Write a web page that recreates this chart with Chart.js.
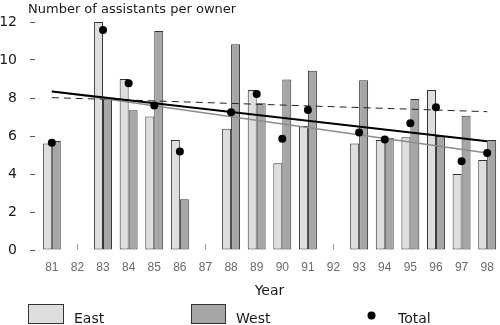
<!DOCTYPE html>
<html>
<head>
<meta charset="utf-8">
<script src="https://cdn.jsdelivr.net/npm/chart.js@4.4.1/dist/chart.umd.min.js"></script>
<style>
  html, body { margin: 0; padding: 0; background: #fff; }
  #wrap { width: 500px; height: 325px; }
</style>
</head>
<body>
<div id="wrap"><canvas id="assistants"></canvas></div>
<script>
/*
    DATOS
*/
const years = ['81', '82', '83', '84', '85', '86', '87', '88', '89', '90', '91', '92', '93', '94', '95', '96', '97', '98'];
const east = [5.6, null, 12.0, 9.0, 7.03, 5.79, null, 6.38, 8.42, 4.56, 6.53, null, 5.61, 5.79, 5.93, 8.42, 4.0, 4.74];
const west = [5.74, null, 7.97, 7.35, 11.53, 2.67, null, 10.83, 7.72, 8.98, 9.44, null, 8.93, 5.91, 7.95, 6.0, 7.07, 5.79];
const total = [5.65, null, 11.58, 8.77, 7.6, 5.19, null, 7.25, 8.21, 5.86, 7.37, null, 6.19, 5.82, 6.67, 7.51, 4.67, 5.1];
const trendTotal = [8.34, null, null, null, null, null, null, null, null, null, null, null, null, null, null, null, null, 5.72];
const trendEast = [8.36, null, null, null, null, null, null, null, null, null, null, null, null, null, null, null, null, 5.1];
const trendWest = [8.02, null, null, null, null, null, null, null, null, null, null, null, null, null, null, null, null, 7.28];
const emptyYears = ['82', '87', '92'];
const yTicks = [0, 2, 4, 6, 8, 10, 12];

const TITLE = 'Number of assistants per owner';
const X_TITLE = 'Year';
const LEGEND = ['East', 'West', 'Total'];

const COLORS = {
  east: '#dedede',
  west: '#a6a6a6',
  border: '#333333',
  text: '#1a1a1a',
  tick: '#6a6a6a'
};

/*
    PLUGIN: titulo y leyenda
*/
const frame = {
  id: 'frame',
  afterDraw(chart) {
    const ctx = chart.ctx;
    ctx.save();
    ctx.fillStyle = COLORS.text;
    ctx.textBaseline = 'alphabetic';
    ctx.textAlign = 'left';
    ctx.font = '13px "DejaVu Sans"';
    ctx.fillText(TITLE, 28, 13);

    // legend
    ctx.font = '14px "DejaVu Sans"';
    ctx.lineWidth = 1;
    ctx.strokeStyle = COLORS.border;
    ctx.fillStyle = COLORS.east;
    ctx.fillRect(28.5, 304.5, 35, 19);
    ctx.strokeRect(28.5, 304.5, 35, 19);
    ctx.fillStyle = COLORS.west;
    ctx.fillRect(191.5, 304.5, 34, 19);
    ctx.strokeRect(191.5, 304.5, 34, 19);
    ctx.fillStyle = '#000';
    ctx.beginPath();
    ctx.arc(371.5, 315.5, 4, 0, Math.PI * 2);
    ctx.fill();
    ctx.fillStyle = COLORS.text;
    ctx.fillText(LEGEND[0], 74, 323);
    ctx.fillText(LEGEND[1], 236, 323);
    ctx.fillText(LEGEND[2], 398, 323);
    ctx.restore();
  }
};

const ctx = document.getElementById('assistants').getContext('2d');
new Chart(ctx, {
  type: 'bar',
  plugins: [frame],
  data: {
    labels: years,
    datasets: [
      {
        type: 'line',
        label: 'Total',
        data: total,
        showLine: false,
        pointRadius: 4,
        pointBackgroundColor: '#000',
        pointBorderWidth: 0,
        order: 0
      },
      {
        type: 'line',
        label: 'Trend total',
        data: trendTotal,
        spanGaps: true,
        borderColor: '#000',
        borderWidth: 2,
        pointRadius: 0,
        order: 1
      },
      {
        type: 'line',
        label: 'Trend east',
        data: trendEast,
        spanGaps: true,
        borderColor: '#8c8c8c',
        borderWidth: 1.5,
        pointRadius: 0,
        order: 2
      },
      {
        type: 'line',
        label: 'Trend west',
        data: trendWest,
        spanGaps: true,
        borderColor: '#222',
        borderWidth: 1,
        borderDash: [7, 5],
        pointRadius: 0,
        order: 2
      },
      {
        label: 'East',
        data: east,
        backgroundColor: COLORS.east,
        borderColor: COLORS.border,
        borderWidth: 1,
        borderSkipped: false,
        categoryPercentage: 0.7,
        barPercentage: 1,
        order: 5
      },
      {
        label: 'West',
        data: west,
        backgroundColor: COLORS.west,
        borderColor: COLORS.border,
        borderWidth: 1,
        borderSkipped: false,
        categoryPercentage: 0.7,
        barPercentage: 1,
        order: 5
      }
    ]
  },
  options: {
    responsive: true,
    maintainAspectRatio: false,
    animation: false,
    layout: { autoPadding: false, padding: { top: 22, right: 0, left: 0, bottom: 0 } },
    plugins: {
      legend: { display: false },
      tooltip: { enabled: false }
    },
    scales: {
      x: {
        offset: true,
        border: { display: false },
        grid: {
          offset: false,
          drawOnChartArea: false,
          drawTicks: true,
          tickLength: -6,
          tickWidth: 1,
          tickColor: (c) => (c.tick && emptyYears.includes(years[c.index]) ? '#9a9a9a' : 'rgba(0,0,0,0)')
        },
        ticks: {
          padding: 16,
          color: COLORS.tick,
          font: { family: '"Liberation Sans"', size: 12 },
          maxRotation: 0,
          autoSkip: false
        },
        title: {
          display: true,
          text: X_TITLE,
          color: COLORS.text,
          font: { family: '"DejaVu Sans"', size: 14 },
          padding: { top: 0, bottom: 25 }
        },
        afterFit: (scale) => {
          scale.height = 75;
          scale.paddingLeft = 0;
          scale.paddingRight = 0;
        }
      },
      y: {
        min: 0,
        max: 12,
        border: { display: false },
        grid: {
          drawOnChartArea: false,
          drawTicks: true,
          tickLength: 9,
          tickBorderDash: [5, 10],
          tickColor: '#555'
        },
        afterBuildTicks: (scale) => { scale.ticks = yTicks.map((v) => ({ value: v })); },
        ticks: {
          padding: 13,
          color: COLORS.text,
          font: { family: '"DejaVu Sans"', size: 14 }
        },
        afterFit: (scale) => { scale.width = 39; }
      }
    }
  }
});
</script>
</body>
</html>
